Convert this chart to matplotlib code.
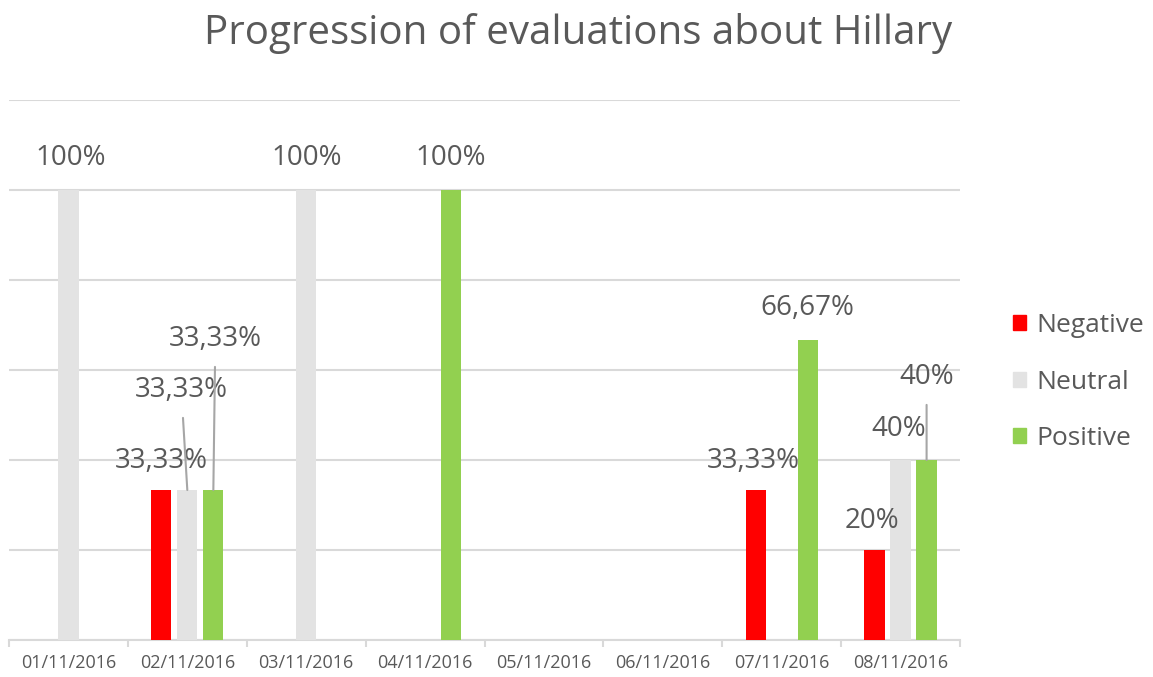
import matplotlib.pyplot as plt
import numpy as np
from matplotlib.patches import Rectangle

# daily share of evaluations (%)
dates = ["01/11/2016", "02/11/2016", "03/11/2016", "04/11/2016",
         "05/11/2016", "06/11/2016", "07/11/2016", "08/11/2016"]
negative = [0, 33.33, 0, 0, 0, 0, 33.33, 20]
neutral = [100, 33.33, 100, 0, 0, 0, 0, 40]
positive = [0, 33.33, 0, 100, 0, 0, 66.67, 40]

series_names = ["Negative", "Neutral", "Positive"]
series_colors = ["#FF0000", "#E3E3E3", "#92D050"]

# label offsets in pixels from the top of each bar (dx, dy up); leader flag
label_offsets = {
    ("Neutral", 0): (2, 32, False),
    ("Negative", 1): (0, 29, False),
    ("Neutral", 1): (-6, 100, True),
    ("Positive", 1): (2, 151, True),
    ("Neutral", 2): (0, 32, False),
    ("Positive", 3): (0, 32, False),
    ("Negative", 6): (-2, 29, False),
    ("Positive", 6): (0, 32, False),
    ("Negative", 7): (-3, 29, False),
    ("Neutral", 7): (-2, 31, False),
    ("Positive", 7): (0, 83, True),
}

plt.rcParams['font.family'] = ['Open Sans', 'DejaVu Sans']
text_color = "#595959"
grid_color = "#D9D9D9"

fig = plt.figure(figsize=(11.53, 6.77), dpi=100)
ax = fig.add_axes([9 / 1153, 37 / 677, 951 / 1153, 540 / 677])

x = np.arange(len(dates))
width = 0.17
step = 0.219
px2pt = 72 / 100

for k, (name, vals, col) in enumerate(zip(series_names, [negative, neutral, positive], series_colors)):
    xs = x + (k - 1) * step
    ax.bar(xs, vals, width, color=col, zorder=3)
    for i, v in enumerate(vals):
        if v <= 0:
            continue
        dx, dy, leader = label_offsets[(name, i)]
        txt = f"{v:g}".replace(".", ",") + "%"
        arrow = None
        if leader:
            arrow = dict(arrowstyle="-", color="#A6A6A6", lw=1.5, shrinkA=8, shrinkB=0)
        ax.annotate(txt, xy=(xs[i], v), xytext=(dx * px2pt, dy * px2pt),
                    textcoords="offset points", ha="center", va="center",
                    fontsize=20, color=text_color, arrowprops=arrow, zorder=4)

ax.set_xlim(-0.5, len(dates) - 0.5)
ax.set_ylim(0, 120)
ax.set_yticks(np.arange(0, 121, 20))
ax.yaxis.grid(True, color=grid_color, lw=1.5, zorder=0)
ax.tick_params(axis="y", left=False, labelleft=False)

ax.set_xticks(x)
ax.set_xticklabels(dates, fontsize=13, color=text_color)
ax.set_xticks(np.arange(-0.5, len(dates)), minor=True)
ax.tick_params(axis="x", which="major", length=0, pad=10)
ax.tick_params(axis="x", which="minor", length=5, width=1.5, color=grid_color)

for side in ["top", "right", "left"]:
    ax.spines[side].set_visible(False)
ax.spines["bottom"].set_color(grid_color)
ax.spines["bottom"].set_linewidth(1.5)

fig.text(578 / 1153, 1 - 33 / 677, "Progression of evaluations about Hillary",
         ha="center", va="center", fontsize=29, color=text_color)

handles = [Rectangle((0, 0), 1, 1, color=c) for c in series_colors]
fig.legend(handles, series_names, loc="center left",
           bbox_to_anchor=(1013 / 1153, 1 - 382 / 677), frameon=False,
           borderpad=0, borderaxespad=0,
           fontsize=19, labelcolor=text_color, handlelength=0.5, handleheight=0.5,
           handletextpad=0.4, labelspacing=1.2)

fig.savefig("out.png", dpi=100)
